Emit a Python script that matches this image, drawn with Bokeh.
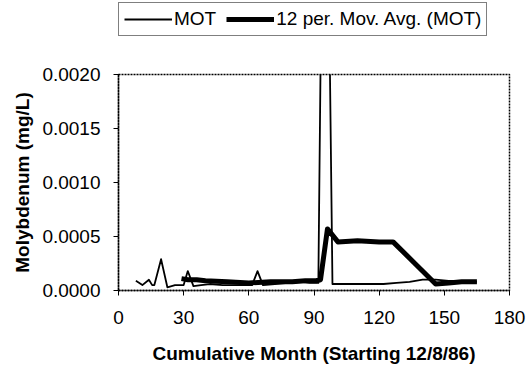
from bokeh.plotting import figure
from bokeh.layouts import column
from bokeh.models import Legend, LegendItem, FixedTicker, NumeralTickFormatter, Range1d
from bokeh.embed import file_html
from bokeh.resources import INLINE

# MOT measurements (month, mg/L)
mot_month = [8, 11, 14, 15.5, 16.5, 19.6, 22.5, 26, 30, 31.9, 34.5, 38, 42, 48, 54, 58,
             61.5, 64, 66.5, 72, 78, 84, 88, 92, 95, 98.5, 104, 110, 116, 122, 128,
             134, 140, 146, 152, 158, 165]
mot_value = [0.00009, 0.00005, 0.0001, 0.00005, 0.00005, 0.00029, 0.00003, 0.00005, 0.00005,
             0.00018, 0.00004, 0.00005, 0.00006, 0.00005, 0.00005, 0.00005,
             0.00005, 0.00018, 0.00005, 0.00006, 0.00007, 0.00008, 0.00007, 0.00007, 0.006,
             0.00006, 0.00006, 0.00006, 0.00006, 0.00006, 0.00007,
             0.00008, 0.0001, 0.0001, 0.00009, 0.00009, 0.00008]

# 12 per. moving average (month, mg/L)
ma_month = [29, 32, 36, 40, 50, 60, 70, 80, 86, 91, 93, 96.2, 101, 110, 120, 126.4,
            136, 146, 152, 158, 165]
ma_value = [0.00011, 0.0001, 0.0001, 0.00009, 0.00008, 0.00007, 0.00008, 0.00008, 0.00009,
            0.00009, 0.0001, 0.00057, 0.00045, 0.00046, 0.00045, 0.00045,
            0.00026, 0.00006, 0.00007, 0.00008, 0.00008]

series_names = ["MOT", "12 per. Mov. Avg. (MOT)"]
x_ticks = [0, 30, 60, 90, 120, 150, 180]
y_ticks = [0, 0.0005, 0.001, 0.0015, 0.002]

FONT = "Liberation Sans"
THIN = 1.8
THICK = 5

# ---- main chart ----
p = figure(width=529, height=333, output_backend="svg", toolbar_location=None,
           x_range=Range1d(0, 180), y_range=Range1d(0, 0.002),
           min_border_left=118, min_border_right=20, min_border_top=36, min_border_bottom=81)

p.line(mot_month, mot_value, line_color="black", line_width=THIN, line_join="round")
p.line(ma_month, ma_value, line_color="black", line_width=THICK, line_join="round")

p.xgrid.visible = False
p.ygrid.visible = False
p.outline_line_color = "black"
p.outline_line_width = 1.5
p.outline_line_dash = "2 1"
p.background_fill_color = "white"
p.border_fill_color = "white"

for ax in (p.xaxis[0], p.yaxis[0]):
    ax.axis_line_color = "black"
    ax.axis_line_width = 1.5
    ax.axis_line_dash = "2 1"
    ax.major_tick_line_color = "black"
    ax.major_tick_line_width = 1
    ax.major_tick_out = 5
    ax.major_tick_in = 0
    ax.minor_tick_line_color = None
    ax.major_label_text_font = FONT
    ax.major_label_text_font_size = "19px"
    ax.major_label_text_color = "black"
    ax.axis_label_text_font = FONT
    ax.axis_label_text_font_size = "19px"
    ax.axis_label_text_font_style = "bold"
    ax.axis_label_text_color = "black"

p.xaxis.ticker = FixedTicker(ticks=x_ticks)
p.yaxis.ticker = FixedTicker(ticks=y_ticks)
p.yaxis.formatter = NumeralTickFormatter(format="0.0000")
p.xaxis.axis_label = "Cumulative Month (Starting 12/8/86)"
p.yaxis.axis_label = "Molybdenum (mg/L)"
p.xaxis.major_label_standoff = 15
p.yaxis.major_label_standoff = 13
p.xaxis.axis_label_standoff = 16
p.yaxis.axis_label_standoff = 6

# ---- legend strip: one-point lines (draw nothing) only supply the legend glyph styles ----
pl = figure(width=529, height=38, output_backend="svg", toolbar_location=None,
            x_range=Range1d(0, 1), y_range=Range1d(0, 1),
            x_axis_type=None, y_axis_type=None, min_border=0)
pl.outline_line_color = None
pl.xgrid.visible = False
pl.ygrid.visible = False
pl.border_fill_color = "white"
lr1 = pl.line(x=mot_month[:1], y=mot_value[:1], line_color="black", line_width=THIN)
lr2 = pl.line(x=ma_month[:1], y=ma_value[:1], line_color="black", line_width=THICK)

legend = Legend(items=[LegendItem(label=series_names[0], renderers=[lr1]),
                       LegendItem(label=series_names[1], renderers=[lr2])],
                orientation="horizontal", location=(0, 2),
                glyph_width=48, glyph_height=20, label_standoff=2, spacing=10,
                padding=5, margin=0,
                label_text_font=FONT, label_text_font_size="19px", label_text_color="black",
                border_line_color="black", border_line_width=1,
                background_fill_alpha=1)
pl.add_layout(legend, "center")

layout = column(pl, p, spacing=0)
open("out.html", "w").write(file_html(layout, INLINE))
